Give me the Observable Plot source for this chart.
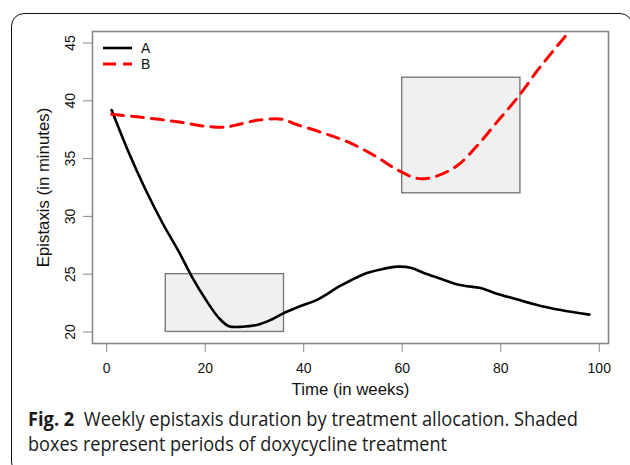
<!DOCTYPE html>
<html>
<head>
<meta charset="utf-8">
<script src="https://cdn.jsdelivr.net/npm/d3@7"></script>
<script src="https://cdn.jsdelivr.net/npm/@observablehq/plot@0.6"></script>
<style>
  html, body { margin: 0; padding: 0; background: #fff; }
  #page { position: relative; width: 630px; height: 465px; overflow: hidden; background: #fff; }
  #chart { position: absolute; left: 0; top: 0; }
  #frame { position: absolute; left: 11px; top: 13px; width: 622px; height: 462px; border: 1.5px solid #111; border-radius: 13px; box-sizing: border-box; pointer-events: none; }
  #legend { position: absolute; left: 0; top: 0; }
  .cap { position: absolute; left: 28px; font-family: "Open Sans", "Noto Sans", sans-serif; font-size: 19.5px; line-height: 25px; color: #1a1a1a; white-space: nowrap; transform-origin: 0 50%; }
  .cap b { font-weight: 700; }
</style>
</head>
<body>
<div id="page">
  <div id="chart"></div>
  <svg id="legend" width="200" height="90"></svg>
  <div class="cap" id="cap1"></div>
  <div class="cap" id="cap2"></div>
  <div id="frame"></div>
</div>
<script>
// ---- data ----
const weeksA = [1, 4.5, 7.9, 11.3, 14.7, 17.4, 20.1, 22.8, 24.8, 27.5, 30.9, 33.6, 36.3, 39.4, 42.8, 47.5, 52.2, 55.6, 59, 61.7, 64.4, 67.8, 70.5, 72.6, 75.9, 78.6, 83.4, 88.1, 92.2, 98];
const valuesA = [39.2, 35.5, 32.3, 29.45, 26.9, 24.7, 22.8, 21.2, 20.5, 20.45, 20.65, 21.1, 21.7, 22.25, 22.8, 24.0, 25.0, 25.4, 25.65, 25.56, 25.1, 24.6, 24.2, 24.0, 23.8, 23.4, 22.8, 22.25, 21.9, 21.5];
const weeksB = [1, 6.6, 14.7, 20.1, 24.2, 26.9, 30.9, 35.7, 38.4, 43.8, 49.2, 54.6, 58.3, 62.4, 64.4, 67.1, 71.2, 75.3, 79.3, 83.4, 87.5, 90.8, 93.9, 98];
const valuesB = [38.83, 38.6, 38.17, 37.8, 37.73, 37.97, 38.34, 38.4, 37.97, 37.24, 36.4, 35.2, 34.2, 33.35, 33.26, 33.5, 34.4, 36.15, 38.2, 40.27, 42.65, 44.4, 46.0, 48.3];
const boxStart = [12, 60];
const boxEnd = [36, 84];
const boxLow = [20, 32];
const boxHigh = [25, 42];
const xTicks = [0, 20, 40, 60, 80, 100];
const yTicks = [20, 25, 30, 35, 40, 45];
const seriesNames = ["A", "B"];
const xTitle = "Time (in weeks)";
const yTitle = "Epistaxis (in minutes)";
const captionBold = "Fig. 2";
const captionLine1 = "Weekly epistaxis duration by treatment allocation. Shaded";
const captionLine2 = "boxes represent periods of doxycycline treatment";

// ---- build tables ----
const lineA = weeksA.map((w, i) => ({week: w, value: valuesA[i]}));
const lineB = weeksB.map((w, i) => ({week: w, value: valuesB[i]}));
const boxes = boxStart.map((s, i) => ({x1: s, x2: boxEnd[i], y1: boxLow[i], y2: boxHigh[i]}));

const FONT = "'Liberation Sans', Arial, sans-serif";
const chart = Plot.plot({
  width: 630,
  height: 400,
  marginLeft: 92,
  marginRight: 22,
  marginTop: 31,
  marginBottom: 57,
  style: {fontFamily: FONT, background: "#fff", color: "#111"},
  x: {domain: [-2.88, 101.88]},
  y: {domain: [19, 46]},
  marks: [
    Plot.rect(boxes, {x1: "x1", x2: "x2", y1: "y1", y2: "y2", fill: "#f0f0f0", stroke: "#7a7a7a", strokeWidth: 1.4}),
    Plot.line(lineA, {x: "week", y: "value", stroke: "#000", strokeWidth: 2.6, curve: "catmull-rom", clip: true}),
    Plot.line(lineB, {x: "week", y: "value", stroke: "#ff0000", strokeWidth: 3, strokeDasharray: "12 8", curve: "catmull-rom", clip: true}),
    Plot.frame({stroke: "#888", strokeWidth: 1.6}),
    Plot.axisX({ticks: xTicks, tickSize: 9, tickPadding: 11, label: null, fontSize: 14, stroke: "#888", fill: "#111", tickFormat: d => String(d)}),
    Plot.axisX({ticks: [], tickSize: 0, label: xTitle, labelAnchor: "center", labelArrow: "none", labelOffset: 51, fontSize: 16.8, fill: "#111"}),
    Plot.axisY({ticks: yTicks, tickSize: 9, tickPadding: 9, tickRotate: -90, label: null, fontSize: 14, stroke: "#888", fill: "#111", tickFormat: d => String(d)}),
    Plot.axisY({ticks: [], tickSize: 0, label: yTitle, labelAnchor: "center", labelArrow: "none", labelOffset: 55, fontSize: 16.8, fill: "#111"})
  ]
});
document.getElementById("chart").appendChild(chart);

// ---- legend ----
const lg = d3.select("#legend");
const legendStyles = [
  {stroke: "#000", dash: null, width: 2.6},
  {stroke: "#ff0000", dash: "13 7", width: 3}
];
seriesNames.forEach((name, i) => {
  const y = 48 + i * 16;
  lg.append("line").attr("x1", 103).attr("x2", 132).attr("y1", y).attr("y2", y)
    .attr("stroke", legendStyles[i].stroke).attr("stroke-width", legendStyles[i].width)
    .attr("stroke-dasharray", legendStyles[i].dash);
  lg.append("text").attr("x", 141).attr("y", y).attr("dy", "0.36em")
    .attr("font-family", FONT).attr("font-size", 14).attr("fill", "#111").text(name);
});

// ---- caption ----
const c1 = document.getElementById("cap1");
const c2 = document.getElementById("cap2");
c1.innerHTML = "<b>" + captionBold + "</b>&nbsp;&nbsp;" + captionLine1;
c2.textContent = captionLine2;
c1.style.top = "406px";
c2.style.top = "431px";
function fit(el, target) {
  const w = el.getBoundingClientRect().width;
  if (w > 0) el.style.transform = "scaleX(" + (target / w) + ")";
}
fit(c1, 550);
fit(c2, 419);
</script>
</body>
</html>
